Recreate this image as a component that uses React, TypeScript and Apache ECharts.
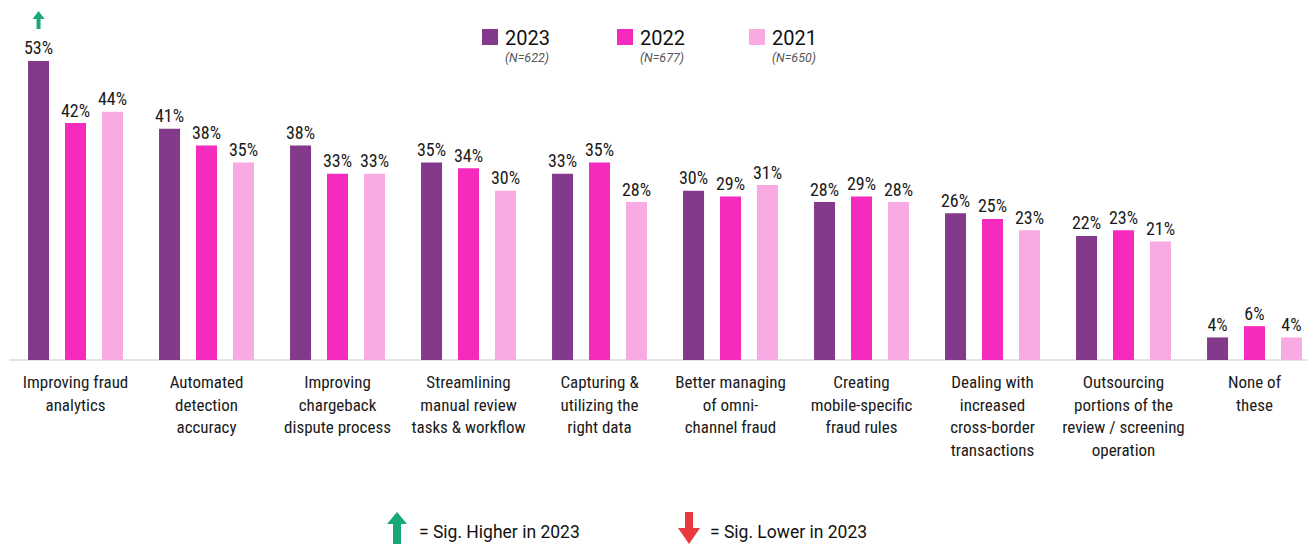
import React, { useEffect, useRef } from "react";
import * as echarts from "echarts";

const categories = [
  "Improving fraud\nanalytics",
  "Automated\ndetection\naccuracy",
  "Improving\nchargeback\ndispute process",
  "Streamlining\nmanual review\ntasks & workflow",
  "Capturing &\nutilizing the\nright data",
  "Better managing\nof omni-\nchannel fraud",
  "Creating\nmobile-specific\nfraud rules",
  "Dealing with\nincreased\ncross-border\ntransactions",
  "Outsourcing\nportions of the\nreview / screening\noperation",
  "None of\nthese",
];

const seriesNames = ["2023", "2022", "2021"];
const sampleSizes = ["(N=622)", "(N=677)", "(N=650)"];
const values2023 = [53, 41, 38, 35, 33, 30, 28, 26, 22, 4];
const values2022 = [42, 38, 33, 34, 35, 29, 29, 25, 23, 6];
const values2021 = [44, 35, 33, 30, 28, 31, 28, 23, 21, 4];
const colors = ["#843a8b", "#f52bbd", "#f9aae2"];
const sigHigherIndex = [0]; // 2023 bars flagged as significantly higher
const noteHigher = "= Sig. Higher in 2023";
const noteLower = "= Sig. Lower in 2023";

const FONT = "Roboto, 'Noto Sans', sans-serif";
const NARROW = "'Roboto Condensed', Roboto, sans-serif";

export default function App() {
  const ref = useRef<HTMLDivElement>(null);

  useEffect(() => {
    if (!ref.current) return;
    const chart = echarts.init(ref.current, undefined, { renderer: "svg" });
    const allValues = [values2023, values2022, values2021];

    const legendX = [482, 617, 749];
    const legendGraphics: any[] = [];
    seriesNames.forEach((name, i) => {
      legendGraphics.push({
        type: "rect",
        shape: { x: legendX[i], y: 29, width: 16, height: 16 },
        style: { fill: colors[i] },
      });
      legendGraphics.push({
        type: "text",
        x: legendX[i] + 23,
        y: 38,
        style: {
          text: name,
          font: `20px ${FONT}`,
          fill: "#111",
          textVerticalAlign: "middle",
          textAlign: "left",
        },
      });
      legendGraphics.push({
        type: "text",
        x: legendX[i] + 67,
        y: 57,
        style: {
          text: sampleSizes[i],
          font: `italic 12.5px ${FONT}`,
          fill: "#555",
          textVerticalAlign: "middle",
          textAlign: "right",
        },
      });
    });

    const upArrow = (cx: number, top: number, headW: number, headH: number, shaftW: number, shaftH: number, color: string) => ({
      type: "polygon",
      shape: {
        points: [
          [cx, top],
          [cx + headW / 2, top + headH],
          [cx + shaftW / 2, top + headH],
          [cx + shaftW / 2, top + headH + shaftH],
          [cx - shaftW / 2, top + headH + shaftH],
          [cx - shaftW / 2, top + headH],
          [cx - headW / 2, top + headH],
        ],
      },
      style: { fill: color },
    });
    const downArrow = (cx: number, top: number, headW: number, headH: number, shaftW: number, shaftH: number, color: string) => ({
      type: "polygon",
      shape: {
        points: [
          [cx - shaftW / 2, top],
          [cx + shaftW / 2, top],
          [cx + shaftW / 2, top + shaftH],
          [cx + headW / 2, top + shaftH],
          [cx, top + shaftH + headH],
          [cx - headW / 2, top + shaftH],
          [cx - shaftW / 2, top + shaftH],
        ],
      },
      style: { fill: color },
    });

    chart.setOption({
      animation: false,
      grid: { left: 10, top: 21.5, width: 1310, height: 338.5 },
      xAxis: {
        type: "category",
        data: categories,
        axisTick: { show: false },
        axisLine: { lineStyle: { color: "#e2e2e8", width: 2 } },
        axisLabel: {
          interval: 0,
          margin: 11,
          fontSize: 17,
          lineHeight: 22.5,
          color: "#1a1a1a",
          fontFamily: NARROW,
        },
      },
      yAxis: { type: "value", min: 0, max: 60, show: false, splitLine: { show: false } },
      series: seriesNames.map((name, i) => ({
        name,
        type: "bar",
        data: allValues[i],
        barWidth: 21,
        barGap: "76%",
        itemStyle: { color: colors[i] },
        label: {
          show: true,
          position: "top",
          distance: 4,
          formatter: "{c}%",
          fontSize: 18,
          color: "#1a1a1a",
          fontFamily: NARROW,
        },
        markPoint:
          i === 0
            ? {
                symbol: "path://M6,0 L12,8 L8,8 L8,18 L4,18 L4,8 L0,8 Z",
                symbolSize: [12, 18],
                symbolOffset: [0, 0],
                itemStyle: { color: "#1aa877" },
                label: { show: false },
                data: sigHigherIndex.map((idx) => ({
                  coord: [idx, 53],
                  y: 20,
                })),
              }
            : undefined,
      })),
      graphic: [
        ...legendGraphics,
        upArrow(397, 512, 20, 12, 8, 40, "#1aa877"),
        {
          type: "text",
          x: 419,
          y: 532,
          style: { text: noteHigher, font: `17.5px ${FONT}`, fill: "#111", textVerticalAlign: "middle" },
        },
        downArrow(689, 512, 22, 16, 8, 16, "#e8393f"),
        {
          type: "text",
          x: 710,
          y: 532,
          style: { text: noteLower, font: `17.5px ${FONT}`, fill: "#111", textVerticalAlign: "middle" },
        },
      ],
    });
    return () => chart.dispose();
  }, []);

  return (
    <div style={{ position: "fixed", left: 0, top: 0, width: 1307, height: 544, overflow: "hidden", background: "#fff" }}>
      <div ref={ref} style={{ position: "absolute", left: 0, top: 0, width: 1340, height: 544 }} />
    </div>
  );
}
